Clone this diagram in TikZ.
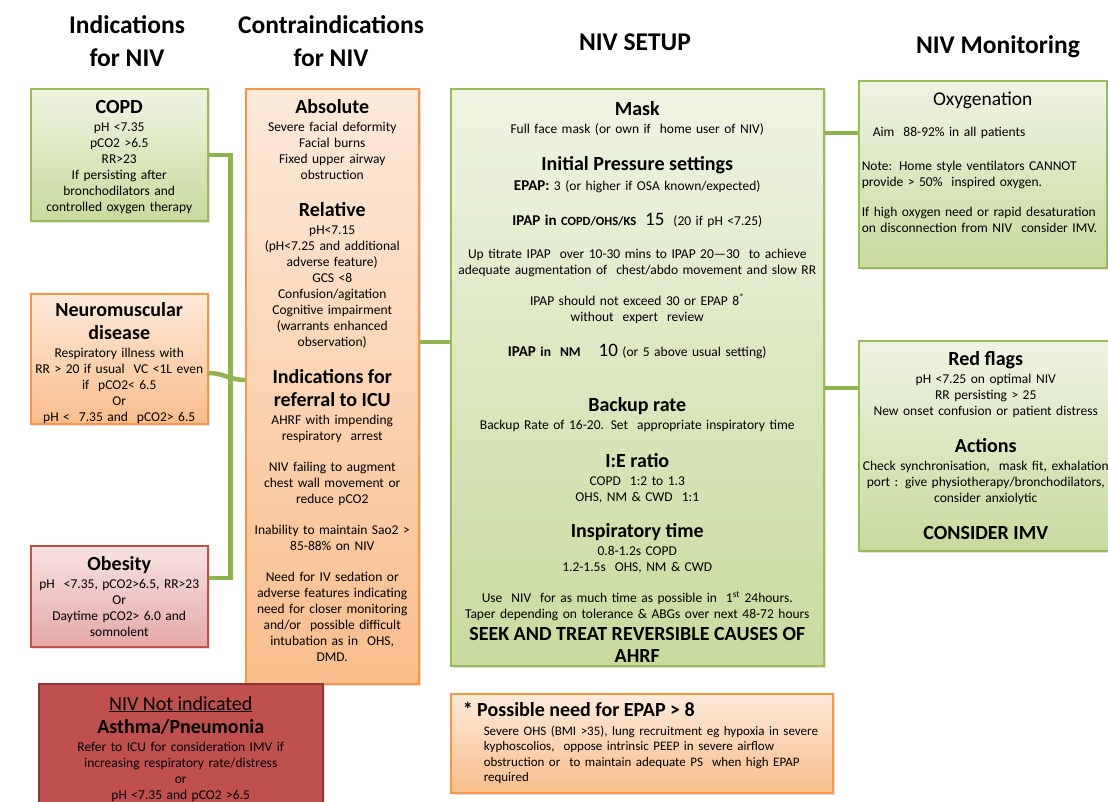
\documentclass[tikz,border=0pt]{standalone}
\usepackage{fontspec}
\setmainfont{Carlito}
\usetikzlibrary{positioning, calc, shadows}

\definecolor{greentop}{HTML}{EFF4E2}
\definecolor{greenbot}{HTML}{C8DA9E}
\definecolor{greenline}{HTML}{9BBB59}
\definecolor{orangetop}{HTML}{FDEADA}
\definecolor{orangebot}{HTML}{F9BD8C}
\definecolor{orangeline}{HTML}{F79646}
\definecolor{pinktop}{HTML}{F7E2E1}
\definecolor{pinkbot}{HTML}{E4A9A7}
\definecolor{redline}{HTML}{C0504D}
\definecolor{redfill}{HTML}{C0504D}
\definecolor{reddark}{HTML}{8C3836}
\definecolor{linkgreen}{HTML}{8FB350}

\newcommand{\bodysize}{\fontsize{13.5}{16}\selectfont}
\newcommand{\hdr}[2][0pt]{\par\vspace{#1}{\fontsize{20}{23}\selectfont\bfseries #2\par}\vspace{2pt}}
\newcommand{\padbottom}[1]{\par\nointerlineskip\vbox to #1{}}

\tikzset{
    panel/.style={draw, line width=1.5pt, anchor=north west, inner xsep=4pt, inner ysep=0pt,
                  align=center, font=\bodysize,
                  drop shadow={opacity=0.25, shadow xshift=2pt, shadow yshift=-2pt}},
    greenbox/.style={panel, draw=greenline, top color=greentop, bottom color=greenbot},
    orangebox/.style={panel, draw=orangeline, top color=orangetop, bottom color=orangebot},
    pinkbox/.style={panel, draw=redline, top color=pinktop, bottom color=pinkbot},
    redbox/.style={panel, draw=reddark, fill=redfill},
    colhead/.style={font=\fontsize{25.5}{33}\selectfont\bfseries, align=center},
    link/.style={draw=linkgreen, line width=4.5pt}
}

\begin{document}
\begin{tikzpicture}[x=1pt, y=-1pt]
    \useasboundingbox (0,0) rectangle (1108,801);
    \clip (0,0) rectangle (1108,801);

    % column headings
    \node[colhead] (head ind) at (127,41) {Indications\\for NIV};
    \node[colhead] (head contra) at (331,41) {Contraindications\\for NIV};
    \node[colhead] (head setup) at (635,42) {NIV SETUP};
    \node[colhead] (head mon) at (998,47) {NIV Monitoring};

    % indications
    \node[greenbox, text width=169pt, minimum height=132pt] (copd) at (30,88) {
        \hdr{COPD}
        pH <7.35\\ pCO2 >6.5\\ RR>23\\ If persisting after\\ bronchodilators and\\ controlled oxygen therapy
        \padbottom{6pt}
    };
    \node[orangebox, text width=169pt, minimum height=130pt] (neuro) at (30,293) {
        \hdr{Neuromuscular\\ disease}
        Respiratory illness with\\ RR > 20 if usual \ VC <1L even\\ if \ pCO2< 6.5\\ Or\\ pH < \ 7.35 and \ pCO2> 6.5\par
    };
    \node[pinkbox, text width=169pt, minimum height=101pt] (obesity) at (30,545) {
        \hdr{Obesity}
        pH \ <7.35, pCO2>6.5, RR>23\\ Or\\ Daytime pCO2> 6.0 and\\ somnolent
        \padbottom{8pt}
    };

    % contraindications
    \node[orangebox, text width=165pt, minimum height=595pt] (contra) at (245,88) {
        \hdr{Absolute}
        Severe facial deformity\\ Facial burns\\ Fixed upper airway\\ obstruction
        \hdr[14pt]{Relative}
        pH<7.15\\ (pH<7.25 and additional\\ adverse feature)\\ GCS <8\\ Confusion/agitation\\
        Cognitive impairment\\ (warrants enhanced\\ observation)
        \hdr[14pt]{Indications for\\ referral to ICU}
        AHRF with impending\\ respiratory \ arrest\\[15pt]
        NIV failing to augment\\ chest wall movement or\\ reduce pCO2\\[15pt]
        Inability to maintain Sao2 >\\ 85-88\% on NIV\\[15pt]
        Need for IV sedation or\\ adverse features indicating\\ need for closer monitoring\\
        and/or \ possible difficult\\ intubation as in \ OHS,\\ DMD.
        \padbottom{20pt}
    };

    % not indicated
    \node[redbox, text width=276pt, minimum height=130pt] (notind) at (38,683) {
        {\fontsize{20}{23}\selectfont\underline{NIV Not indicated}\par}
        \hdr{Asthma/Pneumonia}
        Refer to ICU for consideration IMV if\\ increasing respiratory rate/distress\\ or\\ pH <7.35 and pCO2 >6.5\par
    };

    % setup
    \node[greenbox, text width=365pt, minimum height=577pt] (setup) at (450,88) {
        \hdr{Mask}
        Full face mask (or own if \ home user of NIV)
        \hdr[14pt]{Initial Pressure settings}
        \vspace{2pt}
        {\fontsize{15}{16}\selectfont\bfseries EPAP:} 3 (or higher if OSA known/expected)\\[19pt]
        {\fontsize{15}{16}\selectfont\bfseries IPAP in} {\fontsize{12.5}{16}\selectfont\bfseries COPD/OHS/KS}
        \ {\fontsize{19}{16}\selectfont 15} \ (20 if pH <7.25)\\[17pt]
        Up titrate IPAP \ over 10-30 mins to IPAP 20---30 \ to achieve\\
        adequate augmentation of \ chest/abdo movement and slow RR\\[15pt]
        IPAP should not exceed 30 or EPAP 8\textsuperscript{*}\\ without \ expert \ review\\[19pt]
        {\fontsize{15}{16}\selectfont\bfseries IPAP} {\bfseries in \ NM}
        \quad{\fontsize{19}{16}\selectfont 10} (or 5 above usual setting)
        \hdr[32pt]{Backup rate}
        Backup Rate of 16-20. Set \ appropriate inspiratory time
        \hdr[15pt]{I:E ratio}
        COPD \ 1:2 to 1.3\\ OHS, NM \& CWD \ 1:1
        \hdr[13pt]{Inspiratory time}
        0.8-1.2s COPD\\ 1.2-1.5s \ OHS, NM \& CWD\\[15pt]
        Use \ NIV \ for as much time as possible in \ 1\textsuperscript{st} 24hours.\\
        Taper depending on tolerance \& ABGs over next 48-72 hours\par
        {\fontsize{20}{22}\selectfont\bfseries SEEK AND TREAT REVERSIBLE CAUSES OF\\ AHRF\par}
    };

    % footnote box
    \node[orangebox, text width=378pt, inner xsep=2pt, minimum height=99pt, align=left] (epap) at (450,693) {
        {\leftskip=10pt\fontsize{20}{23}\selectfont\bfseries * Possible need for EPAP > 8\par}
        \vspace{3pt}
        {\leftskip=31pt\hyphenpenalty=10000\fontsize{13}{15.5}\selectfont
        Severe OHS (BMI >35), lung recruitment eg hypoxia in severe\\
        kyphoscolios, \ oppose intrinsic PEEP in severe airflow\\
        obstruction or \ to maintain adequate PS \ when high EPAP\\
        required\par}
    };

    % monitoring
    \node[greenbox, text width=242pt, inner xsep=3pt, minimum height=187pt, align=left] (oxy) at (858,80) {
        {\centering\fontsize{19.5}{23}\selectfont Oxygenation\par}
        \vspace{15pt}
        \hspace*{11pt}Aim \ 88-92\% in all patients\par
        \vspace{18pt}
        Note: Home style ventilators CANNOT\\ provide > 50\% \ inspired oxygen.\par
        \vspace{14pt}
        If high oxygen need or rapid desaturation\\ on disconnection from NIV \ consider IMV.
        \padbottom{24pt}
    };
    \node[greenbox, text width=246pt, minimum height=210pt] (flags) at (858,340) {
        \hdr{Red flags}
        pH <7.25 on optimal NIV\\ RR persisting > 25\\ New onset confusion or patient distress
        \hdr[14pt]{Actions}
        Check synchronisation, \ mask fit, exhalation\\ port : give physiotherapy/bronchodilators,\\ consider anxiolytic
        \hdr[14pt]{CONSIDER IMV}
        \padbottom{8pt}
    };

    % connectors
    \draw[link] (copd.east) -| ($(obesity.north east)+(22,33)$) -- ($(obesity.north east)+(0,33)$);
    \draw[link] ($(neuro.north east)+(0,80)$) to[out=0, in=180] ($(contra.north west)+(0,292)$);
    \draw[link] ($(contra.north east)+(0,254)$) -- ($(setup.north west)+(0,254)$);
    \draw[link] ($(setup.north east)+(0,45)$) -- ($(oxy.north west)+(0,53)$);
    \draw[link] ($(setup.north east)+(0,300)$) -- ($(flags.north west)+(0,48)$);
\end{tikzpicture}
\end{document}
